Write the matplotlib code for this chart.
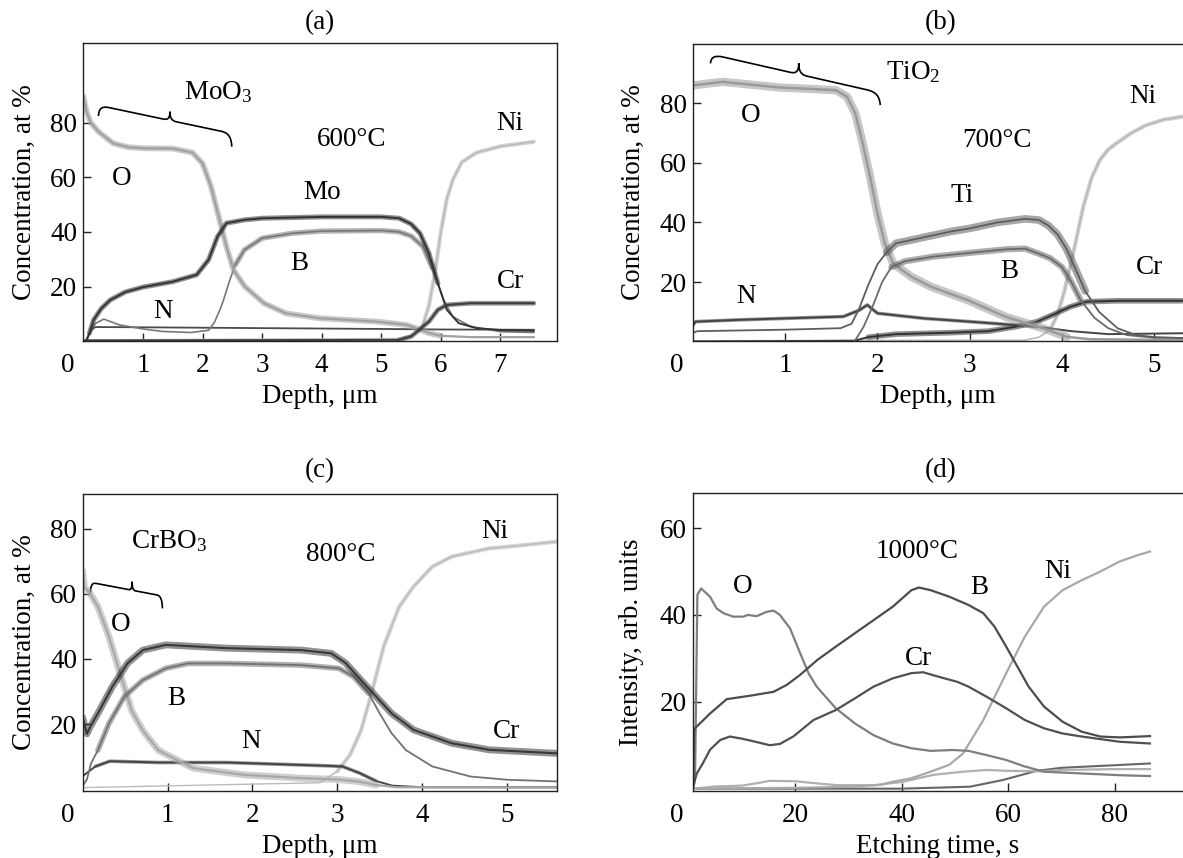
import matplotlib
matplotlib.use('Agg')
import matplotlib.pyplot as plt
import numpy as np
from matplotlib.path import Path
from matplotlib.patches import PathPatch
from matplotlib.transforms import offset_copy

plt.rcParams['font.family'] = ['Liberation Serif', 'DejaVu Serif']
plt.rcParams['mathtext.fontset'] = 'custom'
plt.rcParams['mathtext.rm'] = 'Liberation Serif'
plt.rcParams['mathtext.it'] = 'Liberation Serif:italic'
FS = 19.5

# ---------------- panel (a) 600 C : depth (um) vs concentration (at %) ----------------
a_O_x = [0.0, 0.05, 0.12, 0.25, 0.5, 0.75, 1.0, 1.5, 1.83, 2.0, 2.14, 2.27, 2.4, 2.52, 2.71, 3.03, 3.4, 3.97, 4.92, 5.42, 5.67, 5.8, 6.0, 6.5, 7.56]
a_O_y = [89.5, 84, 80, 76.7, 72.4, 71, 70.6, 70.5, 69, 65, 56.6, 45.6, 34.6, 26, 20, 13.9, 10.2, 8.4, 7.2, 6, 4.1, 3, 2, 1.5, 1.5]
a_Mo_x = [0.05, 0.1, 0.17, 0.3, 0.45, 0.7, 1.0, 1.5, 1.9, 2.1, 2.25, 2.4, 2.7, 3.0, 4.0, 5.0, 5.3, 5.5, 5.65, 5.8, 5.95, 6.1, 6.3, 6.6, 7.0, 7.56]
a_Mo_y = [0.5, 3, 7.8, 12, 15.1, 18, 19.8, 21.8, 24.3, 29.8, 38.3, 43.2, 44.4, 45, 45.5, 45.5, 45, 42.9, 39.5, 32.2, 21.2, 11.5, 6.6, 4.8, 4.1, 3.8]
a_B_x = [0.05, 0.12, 0.2, 0.34, 0.6, 1.0, 1.32, 1.8, 2.1, 2.2, 2.3, 2.35, 2.45, 2.55, 2.7, 3.0, 3.5, 4.0, 5.0, 5.3, 5.5, 5.7, 5.85, 5.95, 6.05, 6.2, 6.5, 7.0, 7.56]
a_B_y = [0.5, 3.5, 6.5, 8.1, 6, 4.5, 3.6, 3.2, 4, 7, 12, 15, 22, 28, 33.4, 37.7, 39.5, 40.3, 40.5, 40, 38.5, 34.6, 27, 21, 15, 9, 5.4, 3.5, 3.2]
a_N_x = [0.05, 0.12, 0.2, 1.0, 3.0, 5.0, 6.0, 7.56]
a_N_y = [0, 4, 5.2, 5.1, 4.8, 4.5, 4.3, 4.2]
a_Ni_x = [0.0, 5.3, 5.55, 5.7, 5.8, 5.9, 6.0, 6.1, 6.2, 6.35, 6.6, 7.0, 7.56]
a_Ni_y = [0.5, 1, 2.5, 6, 13, 25, 40, 52, 59, 65.5, 69, 71.3, 73]
a_Cr_x = [0.0, 5.3, 5.5, 5.6, 5.8, 5.95, 6.1, 6.5, 7.56]
a_Cr_y = [0.3, 0.5, 1.7, 3.5, 7.2, 11.5, 13.3, 13.9, 13.9]

# ---------------- panel (b) 700 C ----------------
b_O_x = [0.0, 0.32, 0.94, 1.55, 1.67, 1.76, 1.84, 1.92, 2.0, 2.08, 2.17, 2.37, 2.58, 2.98, 3.39, 3.8, 4.05, 4.3, 5.3]
b_O_y = [86, 87.2, 85.3, 84.4, 82.2, 76.6, 66.5, 55.3, 43, 32.9, 26.2, 21.7, 18.4, 13.9, 8.3, 4.4, 1.6, 0.8, 0.5]
b_Ti_x = [0.0, 0.05, 1.0, 1.6, 1.72, 1.8, 1.9, 2.0, 2.1, 2.2, 2.5, 2.8, 3.0, 3.3, 3.6, 3.75, 3.85, 3.95, 4.05, 4.15, 4.25, 4.4, 4.6, 4.8, 5.0, 5.3]
b_Ti_y = [3, 3.5, 4, 4.5, 6, 11, 19, 26, 30, 33, 35, 37, 38, 40, 41.2, 40.8, 39, 36, 31, 24, 17, 10, 4.5, 2.2, 1.5, 1.2]
b_B_x = [0.0, 1.75, 1.85, 1.95, 2.05, 2.15, 2.3, 2.6, 3.0, 3.4, 3.6, 3.75, 3.87, 4.0, 4.1, 4.2, 4.35, 4.5, 4.7, 5.0, 5.3]
b_B_y = [0, 0, 5, 12, 20, 25, 27, 28.5, 29.8, 31, 31.2, 29.5, 28, 25, 20, 14, 8, 4.5, 2.2, 1.3, 1.2]
b_N_x = [0.0, 0.03, 0.5, 1.0, 1.63, 1.8, 1.89, 2.0, 2.5, 3.0, 3.73, 4.1, 4.5, 5.3]
b_N_y = [5.5, 6.7, 7.3, 7.8, 8.4, 10.5, 12.3, 9.5, 7.8, 6.7, 5, 3.5, 2.5, 2.8]
b_Ni_x = [0.0, 3.6, 3.75, 3.87, 3.95, 4.02, 4.12, 4.23, 4.32, 4.41, 4.5, 4.59, 4.75, 4.9, 5.1, 5.3]
b_Ni_y = [0.3, 0.5, 1.5, 3.9, 9, 16.3, 29.6, 45.3, 55, 61, 64.5, 66.6, 70, 72.5, 74.5, 75.5]
b_Cr_x = [0.0, 1.75, 1.9, 2.2, 2.8, 3.2, 3.5, 3.73, 3.9, 4.09, 4.27, 4.6, 5.3]
b_Cr_y = [0, 0.3, 1.5, 2.5, 3, 3.5, 5, 6.7, 9, 11.7, 13.4, 13.7, 13.7]

# ---------------- panel (c) 800 C ----------------
c_O_x = [0.0, 0.02, 0.09, 0.18, 0.31, 0.44, 0.58, 0.71, 0.89, 1.11, 1.3, 1.46, 1.91, 2.57, 3.0, 3.24, 3.46, 3.7, 5.59]
c_O_y = [67, 62, 60, 56, 46.8, 35.6, 24, 18, 12, 9, 6.5, 5.9, 4.4, 3.4, 3.0, 2.4, 1.3, 0.6, 0.5]
c_Cr_x = [0.0, 0.05, 0.09, 0.18, 0.35, 0.53, 0.71, 0.98, 1.69, 2.57, 2.93, 3.1, 3.28, 3.46, 3.64, 3.9, 4.35, 4.79, 5.59]
c_Cr_y = [22, 17, 19.2, 23.3, 31.5, 38.7, 42.7, 44.3, 43.3, 42.7, 41.7, 38.7, 33.5, 28.4, 23.3, 18.2, 14.1, 12.1, 11]
c_B_x = [0.0, 0.05, 0.1, 0.18, 0.31, 0.49, 0.71, 0.98, 1.24, 1.69, 2.57, 3.02, 3.19, 3.37, 3.5, 3.64, 3.81, 4.12, 4.57, 5.01, 5.59]
c_B_y = [1, 3, 8, 12, 20.2, 28.4, 33.5, 37.1, 38.6, 38.6, 38.1, 37.1, 34.6, 29.4, 23.3, 17.2, 12, 7, 3.9, 2.9, 2.4]
c_N_x = [0.0, 0.05, 0.15, 0.32, 0.9, 1.7, 2.87, 3.06, 3.26, 3.46, 3.65, 4.0, 5.59]
c_N_y = [4, 5, 7, 8.6, 8.2, 8.2, 7.2, 7, 5, 2.5, 1.1, 0.6, 0.6]
c_Ni_x = [0.0, 2.8, 3.0, 3.15, 3.28, 3.41, 3.55, 3.73, 3.9, 4.12, 4.35, 4.79, 5.23, 5.59]
c_Ni_y = [0.5, 2, 5.5, 10.5, 18, 30, 44, 56, 62.2, 68.3, 71.4, 73.9, 75, 76]

# ---------------- panel (d) 1000 C : etching time (s) vs intensity ----------------
d_O_x = [0.98, 1.16, 1.6, 2.3, 3.98, 5.2, 6.5, 8.35, 10.2, 11.1, 12.7, 14.6, 15.9, 17.1, 19.0, 20.9, 22.5, 24.0, 27.6, 31.2, 34.7, 38.3, 41.8, 45.4, 49.6, 52.5, 56.0, 59.6, 63.1, 66.7, 73.8, 80.9, 86.6]
d_O_y = [1.0, 2, 44.6, 46.1, 44.2, 41.5, 40.4, 39.6, 39.6, 40, 39.7, 40.7, 41, 40, 36.9, 31.2, 26.5, 23.5, 18.5, 15, 12.3, 10.4, 9.3, 8.7, 8.9, 8.7, 7.7, 6.6, 5.1, 3.9, 3.5, 3.1, 2.9]
d_B_x = [0.8, 1.0, 1.16, 3.98, 7.1, 11.5, 15.9, 18.4, 20.9, 24.1, 27.6, 31.2, 34.7, 38.3, 41.8, 43.2, 45.4, 48.9, 52.5, 55.3, 57.4, 59.6, 61.7, 63.8, 66.7, 70.2, 73.8, 77.3, 80.9, 86.6]
d_B_y = [0.5, 13.5, 13.9, 17.3, 20.6, 21.4, 22.3, 23.9, 26.2, 29.6, 32.7, 35.8, 38.8, 41.9, 45.7, 46.3, 45.7, 44.2, 42.3, 40.4, 37.3, 32.7, 28.1, 23.5, 18.9, 15.4, 13.1, 12, 11.8, 12.1]
d_Cr_x = [0.8, 1.0, 1.5, 2.7, 4.0, 5.9, 7.7, 10.0, 12.5, 15.2, 17.1, 19.6, 23.4, 27.6, 31.2, 34.7, 38.3, 41.8, 44.0, 46.8, 50.4, 52.5, 56.0, 59.6, 63.1, 66.7, 70.2, 73.8, 80.9, 86.6]
d_Cr_y = [0.3, 1.5, 3.5, 6.0, 9.0, 11.2, 12, 11.5, 10.8, 10, 10.3, 12, 15.8, 18.1, 20.8, 23.5, 25.4, 26.6, 26.8, 25.8, 24.6, 23.5, 21.1, 18.5, 15.8, 13.9, 12.7, 12, 10.8, 10.4]
d_Ni_x = [0.8, 20, 30, 36, 38.3, 41.8, 45.4, 48.9, 51.5, 55.3, 59.6, 63.1, 66.7, 70.2, 73.8, 77.3, 80.9, 84.4, 86.6]
d_Ni_y = [0, 0.2, 0.4, 0.9, 1.6, 2.4, 3.9, 5.5, 8.1, 15.8, 26.6, 35, 41.9, 45.7, 48, 50, 52.3, 53.8, 54.6]
d_unlabeled1_x = [0.8, 5, 10, 13, 15.2, 20, 25, 28, 35, 40.3, 46, 51.5, 55.9, 60, 66, 70, 80, 86.6]
d_unlabeled1_y = [0, 0.5, 0.7, 1.3, 1.8, 1.7, 1.1, 0.8, 0.8, 1.6, 3.2, 3.9, 4.3, 4.1, 4.0, 4.3, 4.5, 4.5]
d_unlabeled2_x = [0.8, 40, 52.8, 59, 65.3, 70, 80, 86.6]
d_unlabeled2_y = [0, 0, 0.45, 2, 4.1, 4.8, 5.4, 5.8]

# ---------------- figure ----------------
W, H = 1183, 858
fig = plt.figure(figsize=(W / 100, H / 100), dpi=100)


def add_axes(l, r, t, b):
    return fig.add_axes([l / W, 1 - b / H, (r - l) / W, (b - t) / H])


axa = add_axes(83.5, 557, 43.3, 340.7)
axb = add_axes(692.9, 1183, 43.7, 340.7)
axc = add_axes(83.5, 557, 494, 790.7)
axd = add_axes(692.9, 1183, 493.3, 790.7)


def draw(ax, x, y, color, lw=1.3, band=0.0, band_range=None, band_alpha=0.55):
    x = np.asarray(x, float)
    y = np.asarray(y, float)
    if band:
        if band_range is None:
            m = np.ones_like(x, bool)
        else:
            m = (x >= band_range[0]) & (x <= band_range[1])
        ax.plot(x[m], y[m], color=color, lw=band, alpha=band_alpha,
                solid_joinstyle='round', solid_capstyle='round')
    ax.plot(x, y, color=color, lw=lw, solid_joinstyle='round')


def brace(ax, xl, yl, xr, yr, dl, dr, c, uc):
    pts = [(0, -dl),
           (0.004, -dl * 0.35), (0.02, 0), (0.08, 0),
           (uc - 0.05, 0),
           (uc - 0.01, 0), (uc, c * 0.35), (uc, c),
           (uc, c * 0.35), (uc + 0.01, 0), (uc + 0.05, 0),
           (0.92, 0),
           (0.98, 0), (0.996, -dr * 0.35), (1, -dr)]
    codes = [Path.MOVETO,
             Path.CURVE4, Path.CURVE4, Path.CURVE4,
             Path.LINETO,
             Path.CURVE4, Path.CURVE4, Path.CURVE4,
             Path.CURVE4, Path.CURVE4, Path.CURVE4,
             Path.LINETO,
             Path.CURVE4, Path.CURVE4, Path.CURVE4]
    verts = [(xl + u * (xr - xl), yl + u * (yr - yl) + v) for u, v in pts]
    ax.add_patch(PathPatch(Path(verts, codes), fill=False, lw=1.2, ec='black'))


def style(ax, xlim, ylim, xticks, yticks, xlabel, ylabel, wpx, hpx, right_spine=True):
    ax.set_xlim(*xlim)
    ax.set_ylim(*ylim)
    ax.set_xticks(xticks)
    ax.set_yticks(yticks)
    ax.set_xticklabels([str(t) for t in xticks])
    ax.set_yticklabels([str(t) for t in yticks])
    ax.tick_params(axis='both', direction='in', length=6, width=1.0, labelsize=FS, color='#222222')
    ax.tick_params(axis='x', pad=9.0)
    ax.tick_params(axis='y', pad=4.5)
    for s in ax.spines.values():
        s.set_linewidth(1.0)
        s.set_color('#222222')
    if not right_spine:
        ax.spines['right'].set_visible(False)
    ax.set_xlabel(xlabel, fontsize=FS)
    ax.xaxis.set_label_coords(0.5, -56 / hpx)
    ax.xaxis.label.set_va('center')
    ax.set_ylabel(ylabel, fontsize=FS)
    ax.yaxis.set_label_coords(-59 / wpx, 0.5)
    ax.yaxis.label.set_va('center')
    tr = offset_copy(ax.transAxes, fig=fig, x=-16, y=-9.0 * 100 / 72, units='dots')
    ax.text(0, 0, '0', transform=tr, ha='center', va='top', fontsize=FS)


def label(ax, x, y, s):
    ax.text(x, y, s, ha='center', va='center', fontsize=FS)


# ----- (a)
draw(axa, a_Ni_x, a_Ni_y, '#b8b8b8', lw=1.0, band=3.0, band_range=(5.6, 7.6), band_alpha=0.6)
draw(axa, a_N_x, a_N_y, '#4a4a4a', lw=1.3)
draw(axa, a_B_x, a_B_y, '#777777', lw=1.2, band=3.8, band_range=(2.5, 5.9))
draw(axa, a_O_x, a_O_y, '#a0a0a0', lw=1.6, band=4.2, band_range=(0.0, 6.0))
draw(axa, a_Mo_x, a_Mo_y, '#333333', lw=1.4, band=3.6, band_range=(0.1, 6.0))
draw(axa, a_Cr_x, a_Cr_y, '#3c3c3c', lw=1.4, band=3.4, band_range=(5.3, 7.6))
style(axa, (0, 7.95), (0.2, 109), [1, 2, 3, 4, 5, 6, 7], [20, 40, 60, 80],
      'Depth, μm', 'Concentration, at %', 473.5, 297.4)
brace(axa, 0.25, 86.3, 2.49, 76.0, 3.9, 4.8, 3.2, 0.536)
label(axa, 2.26, 91, r'MoO$_\mathrm{3}$')
label(axa, 4.51, 73.7, '600°C')
label(axa, 0.64, 59.6, 'O')
label(axa, 4.0, 54.5, 'Mo')
label(axa, 3.62, 28.5, 'B')
label(axa, 1.33, 10.9, 'N')
label(axa, 7.16, 79.8, 'Ni')
label(axa, 7.16, 21.8, 'Cr')

# ----- (b)
draw(axb, b_Ni_x, b_Ni_y, '#b5b5b5', lw=1.0, band=3.0, band_range=(3.8, 5.4), band_alpha=0.6)
draw(axb, b_Cr_x, b_Cr_y, '#333333', lw=1.4, band=4.0, band_range=(1.8, 5.4))
draw(axb, b_N_x, b_N_y, '#444444', lw=1.4, band=2.6, band_range=(0.0, 3.8))
draw(axb, b_O_x, b_O_y, '#9a9a9a', lw=1.8, band=6.0, band_range=(0.0, 4.1))
draw(axb, b_B_x, b_B_y, '#6a6a6a', lw=1.3, band=4.5, band_range=(2.1, 4.3))
draw(axb, b_Ti_x, b_Ti_y, '#5e5e5e', lw=1.3, band=5.5, band_range=(2.1, 4.3))
style(axb, (0, 5.31), (0.3, 100), [1, 2, 3, 4, 5], [20, 40, 60, 80],
      'Depth, μm', 'Concentration, at %', 490.1, 297.0, right_spine=False)
brace(axb, 0.19, 96.5, 2.03, 83.5, 3.1, 4.1, 3.7, 0.52)
label(axb, 2.39, 90.6, r'TiO$_\mathrm{2}$')
label(axb, 0.63, 76, 'O')
label(axb, 3.3, 67.6, '700°C')
label(axb, 4.87, 82.2, 'Ni')
label(axb, 2.92, 49.1, 'Ti')
label(axb, 3.43, 23.4, 'B')
label(axb, 4.95, 25, 'Cr')
label(axb, 0.58, 15, 'N')

# ----- (c)
draw(axc, c_Ni_x, c_Ni_y, '#bbbbbb', lw=1.0, band=3.0, band_range=(2.9, 5.6), band_alpha=0.6)
draw(axc, c_N_x, c_N_y, '#454545', lw=1.4, band=2.6, band_range=(0.1, 3.5))
draw(axc, c_O_x, c_O_y, '#a8a8a8', lw=1.6, band=5.0, band_range=(0.0, 3.5))
draw(axc, c_B_x, c_B_y, '#727272', lw=1.3, band=4.0, band_range=(0.15, 3.4))
draw(axc, c_Cr_x, c_Cr_y, '#393939', lw=1.5, band=5.0, band_range=(0.0, 5.6))
style(axc, (0.01, 5.59), (-0.45, 90.6), [1, 2, 3, 4, 5], [20, 40, 60, 80],
      'Depth, μm', 'Concentration, at %', 473.5, 296.7)
brace(axc, 0.09, 63.5, 0.94, 59.3, 3.4, 3.8, 2.6, 0.58)
label(axc, 1.02, 76, r'CrBO$_\mathrm{3}$')
label(axc, 3.04, 71.9, '800°C')
label(axc, 4.86, 79, 'Ni')
label(axc, 0.45, 50.4, 'O')
label(axc, 1.11, 27.9, 'B')
label(axc, 1.99, 14.6, 'N')
label(axc, 4.99, 17.7, 'Cr')

# ----- (d)
draw(axd, d_unlabeled2_x, d_unlabeled2_y, '#666666', lw=1.5)
draw(axd, d_unlabeled1_x, d_unlabeled1_y, '#b0b0b0', lw=1.6)
draw(axd, d_Ni_x, d_Ni_y, '#a8a8a8', lw=1.6)
draw(axd, d_O_x, d_O_y, '#7e7e7e', lw=1.6)
draw(axd, d_Cr_x, d_Cr_y, '#505050', lw=1.6)
draw(axd, d_B_x, d_B_y, '#4c4c4c', lw=1.6)
style(axd, (0.76, 92.8), (-0.47, 68.0), [20, 40, 60, 80], [20, 40, 60],
      'Etching time, s', 'Intensity, arb. units', 490.1, 297.4, right_spine=False)
axd.yaxis.set_label_coords(-61 / 490.1, 0.5)
label(axd, 42.9, 54.5, '1000°C')
label(axd, 10.2, 46.5, 'O')
label(axd, 54.6, 46.3, 'B')
label(axd, 69.2, 50, 'Ni')
label(axd, 43.2, 30, 'Cr')

# panel titles
fig.text(320 / W, 1 - 29 / H, '(a)', ha='center', va='baseline', fontsize=FS)
fig.text(941 / W, 1 - 29 / H, '(b)', ha='center', va='baseline', fontsize=FS)
fig.text(320 / W, 1 - 477 / H, '(c)', ha='center', va='baseline', fontsize=FS)
fig.text(941 / W, 1 - 477 / H, '(d)', ha='center', va='baseline', fontsize=FS)

fig.savefig('out.png', dpi=100)
